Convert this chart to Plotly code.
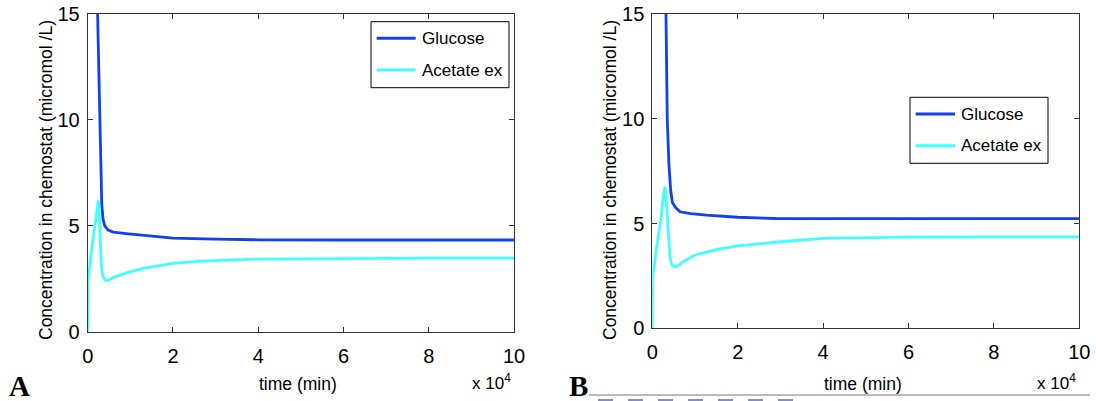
import plotly.graph_objects as go

# Time points in minutes, concentrations in micromol/L
t_glc_a = [0, 1000, 2000, 2300, 2600, 2900, 3100, 3300, 3600, 4000, 4800, 6000, 9000,
           14000, 20000, 30000, 40000, 60000, 80000, 100000]
glc_a = [60, 35, 19, 15.2, 12.5, 10, 7.5, 6.0, 5.3, 5.0, 4.8, 4.7, 4.63,
         4.53, 4.42, 4.37, 4.34, 4.33, 4.33, 4.33]

t_ace_a = [0, 50, 900, 1900, 2200, 2500, 2700, 2900, 3200, 3600, 4200, 5000, 6000,
           9100, 13000, 20000, 26700, 40000, 60000, 80000, 100000]
ace_a = [0, 2.3, 3.85, 5.42, 6.0, 6.2, 5.6, 4.2, 3.1, 2.6, 2.42, 2.43, 2.56,
         2.78, 2.99, 3.23, 3.33, 3.43, 3.46, 3.47, 3.47]

t_glc_b = [0, 1500, 2800, 3200, 3500, 3900, 4300, 4700, 5500, 6500, 9000, 12700,
           20000, 29000, 40000, 60000, 80000, 100000]
glc_b = [60, 30, 18, 15.1, 10, 7.8, 6.6, 6.0, 5.75, 5.56, 5.47, 5.40,
         5.3, 5.24, 5.23, 5.23, 5.23, 5.23]

t_ace_b = [0, 50, 900, 2000, 2700, 3000, 3300, 3700, 4100, 4500, 5300, 6000, 7000,
           10000, 15000, 20000, 30000, 40000, 50000, 60000, 80000, 100000]
ace_b = [0, 2.3, 3.73, 5.16, 6.5, 6.75, 6.0, 4.6, 3.5, 3.05, 2.94, 2.98, 3.15,
         3.5, 3.75, 3.93, 4.13, 4.29, 4.33, 4.35, 4.36, 4.36]

x_tick_vals = [0, 20000, 40000, 60000, 80000, 100000]
x_tick_text = ["0", "2", "4", "6", "8", "10"]
y_tick_vals = [0, 5, 10, 15]

series_names = ["Glucose", "Acetate ex"]
glc_color = "#1040f0"
ace_color = "#40ffff"

W, H = 1096, 401


def px_x(p):
    return p / W


def px_y(p):
    return 1 - p / H


fig = go.Figure()

panels = [
    ("x", "y", t_glc_a, glc_a, t_ace_a, ace_a),
    ("x2", "y2", t_glc_b, glc_b, t_ace_b, ace_b),
]
for xa, ya, tg, g, ta, a in panels:
    fig.add_trace(go.Scatter(x=tg, y=g, mode="lines", name=series_names[0],
                             line=dict(color=glc_color, width=2.8),
                             xaxis=xa, yaxis=ya, showlegend=False))
    fig.add_trace(go.Scatter(x=ta, y=a, mode="lines", name=series_names[1],
                             line=dict(color=ace_color, width=2.8),
                             xaxis=xa, yaxis=ya, showlegend=False))

tick_font = dict(family="Liberation Sans Narrow, Arial Narrow, Liberation Sans, Arial",
                 size=20, color="black")
axis_common = dict(showgrid=False, zeroline=False, showline=True, linecolor="#333",
                   linewidth=1, mirror="ticks", ticks="inside", ticklen=5,
                   tickcolor="#333", tickfont=tick_font, automargin=False)

fig.update_layout(
    template="none",
    width=W, height=H,
    margin=dict(l=0, r=0, t=0, b=0),
    paper_bgcolor="white", plot_bgcolor="white",
    font=dict(family="Liberation Sans, Arial", size=17, color="black"),
    showlegend=False,
    xaxis=dict(domain=[px_x(87.7), px_x(514)], range=[0, 100000],
               tickvals=x_tick_vals, ticktext=x_tick_text, anchor="y",
               ticklabelstandoff=6, **axis_common),
    yaxis=dict(domain=[px_y(331.7), px_y(14)], range=[0, 15],
               tickvals=y_tick_vals, anchor="x", ticklabelstandoff=3, **axis_common),
    xaxis2=dict(domain=[px_x(652.3), px_x(1079.3)], range=[0, 100000],
                tickvals=x_tick_vals, ticktext=x_tick_text, anchor="y2",
                ticklabelstandoff=6, **axis_common),
    yaxis2=dict(domain=[px_y(328.3), px_y(14)], range=[0, 15],
                tickvals=y_tick_vals, anchor="x2", ticklabelstandoff=3, **axis_common),
)

ann = []
shapes = []

# Legend boxes: (left, top, right, bottom, line start, line end, text start, row ys)
legend_boxes = [
    (371, 21.7, 509, 87.7, 376.7, 415.7, 420, (38.3, 70)),
    (910, 97.3, 1048, 163.3, 915.7, 955, 959, (114, 145.7)),
]
colors = [glc_color, ace_color]
for l, t, r, b, ls, le, tx, rows in legend_boxes:
    shapes.append(dict(type="rect", xref="paper", yref="paper",
                       x0=px_x(l), x1=px_x(r), y0=px_y(b), y1=px_y(t),
                       line=dict(color="black", width=1), fillcolor="white", layer="above"))
    for name, col, ry in zip(series_names, colors, rows):
        shapes.append(dict(type="line", xref="paper", yref="paper",
                           x0=px_x(ls), x1=px_x(le), y0=px_y(ry), y1=px_y(ry),
                           line=dict(color=col, width=3), layer="above"))
        ann.append(dict(x=px_x(tx), y=px_y(ry), xref="paper", yref="paper",
                        text=name, showarrow=False, xanchor="left", yanchor="middle",
                        font=dict(size=17)))

ytitle = "Concentration in chemostat (micromol /L)"
for cx in (46, 610):
    ann.append(dict(x=px_x(cx), y=px_y(180), xref="paper", yref="paper",
                    text=ytitle, textangle=-90, showarrow=False,
                    xanchor="center", yanchor="middle", font=dict(size=17.5)))
for cx in (298, 863):
    ann.append(dict(x=px_x(cx), y=px_y(384), xref="paper", yref="paper",
                    text="time (min)", showarrow=False,
                    xanchor="center", yanchor="middle", font=dict(size=17.5)))
for rx in (513, 1078):
    ann.append(dict(x=px_x(rx), y=px_y(382), xref="paper", yref="paper",
                    text="x 10<sup>4</sup>", showarrow=False,
                    xanchor="right", yanchor="middle", font=dict(size=17)))
for lx, lab in ((7, "A"), (567, "B")):
    ann.append(dict(x=px_x(lx), y=px_y(386), xref="paper", yref="paper",
                    text="<b>%s</b>" % lab, showarrow=False,
                    xanchor="left", yanchor="middle",
                    font=dict(family="Liberation Serif, Times New Roman", size=29)))

shapes.append(dict(type="line", xref="paper", yref="paper",
                   x0=px_x(589), x1=px_x(1090), y0=px_y(395), y1=px_y(395),
                   line=dict(color="#777", width=1)))
shapes.append(dict(type="line", xref="paper", yref="paper",
                   x0=px_x(598), x1=px_x(807), y0=px_y(400), y1=px_y(400),
                   opacity=0.7,
                   line=dict(color="#1c2a80", width=1.5, dash="longdash")))

fig.update_layout(annotations=ann, shapes=shapes)

fig.write_html("out.html")
